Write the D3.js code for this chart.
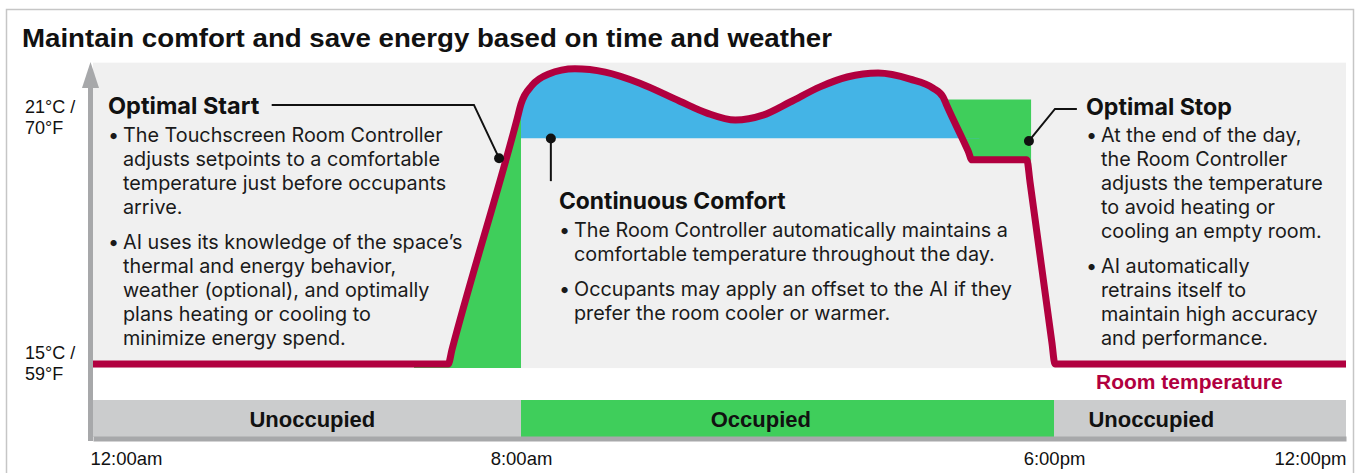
<!DOCTYPE html>
<html>
<head>
<meta charset="utf-8">
<script src="https://cdn.jsdelivr.net/npm/d3@7"></script>
<style>
  body { margin: 0; background: #fff; }
  svg { display: block; }
</style>
</head>
<body>
<div id="chart"></div>
<script>
// room temperature over the day: hour (0 = midnight) and °C
var tempHour  = [0, 6.64, 6.71, 7.93, 8.0, 8.21, 8.51, 9.01, 9.58, 10.23, 10.98, 11.49, 12.02, 12.54, 13.05, 13.61, 14.12, 14.7, 15.3, 15.73, 15.92, 15.99, 16.39, 16.46, 17.49, 17.55, 17.96, 18.02, 24];
var tempValue = [15, 15, 15.35, 20.99, 21.34, 21.8, 22.07, 22.2, 22.12, 21.85, 21.41, 21.12, 20.95, 21.07, 21.39, 21.76, 22.0, 22.1, 21.95, 21.73, 21.51, 21.3, 20.19, 19.98, 19.98, 19.44, 15.53, 15, 15];

var setpoint = 20.5;              // comfort setpoint (bottom of the blue band)
var comfortWindow = [8, 16.6];    // where the blue band is drawn
var startWindow = [6, 8];         // optimal start (green under the ramp)
var stopWindow = [16.0, 17.57];   // optimal stop (green above the line)
var stopTop = 21.45;

// occupancy schedule
var occLabels  = ["Unoccupied", "Occupied", "Unoccupied"];
var occStart   = [0, 8, 18];
var occEnd     = [8, 18, 24];
var occLabelAt = [4.1, 12.5, 20];

// axis ticks
var timeTicks  = [0, 8, 18, 24];
var timeLabels = ["12:00am", "8:00am", "6:00pm", "12:00pm"];
var tempTicks  = [21, 15];
var tempLabels = [["21°C /", "70°F"], ["15°C /", "59°F"]];

var data = tempHour.map(function (h, i) { return [h, tempValue[i]]; });

var width = 1357, height = 473;
var red = "#b1003f", blue = "#44b4e6", green = "#3fce5b";

var svg = d3.select("#chart").append("svg")
    .attr("width", width)
    .attr("height", height);

// scales (the day is drawn a bit unevenly, so the time scale is piecewise)
var x = d3.scaleLinear()
    .domain([0, 8, 18, 24])
    .range([93, 521, 1054, 1346]);
var y = d3.scaleLinear()
    .domain([15, 21])
    .range([364, 118]);

// outer frame
svg.append("rect")
    .attr("x", 6.5).attr("y", 9.5)
    .attr("width", 1347).attr("height", 480)
    .attr("fill", "#fff")
    .attr("stroke", "#c6c6c6")
    .attr("stroke-width", 1.5);

svg.append("text")
    .attr("x", 22).attr("y", 47)
    .attr("font-family", "Liberation Sans, Arial, sans-serif")
    .attr("font-weight", "bold")
    .attr("font-size", 25)
    .attr("textLength", 810)
    .attr("lengthAdjust", "spacingAndGlyphs")
    .attr("fill", "#111")
    .text("Maintain comfort and save energy based on time and weather");

// plot background
svg.append("rect")
    .attr("x", x(0)).attr("y", y(22.35))
    .attr("width", x(24) - x(0))
    .attr("height", y(14.9) - y(22.35))
    .attr("fill", "#f0f0f0");

// clips
var defs = svg.append("defs");
function clipRect(id, h0, h1, top, bottom) {
  defs.append("clipPath").attr("id", id)
    .append("rect")
      .attr("x", x(h0)).attr("y", top)
      .attr("width", x(h1) - x(h0))
      .attr("height", bottom - top);
}
clipRect("clip-start", startWindow[0], startWindow[1], 0, height);
clipRect("clip-comfort", comfortWindow[0], comfortWindow[1], 0, y(setpoint));
clipRect("clip-stop", stopWindow[0], stopWindow[1], 0, height);

var area = d3.area()
    .x(function (d) { return x(d[0]); })
    .y1(function (d) { return y(d[1]); })
    .curve(d3.curveMonotoneX);

// optimal stop fill (between the box top and the line)
svg.append("path")
    .datum(data)
    .attr("clip-path", "url(#clip-stop)")
    .attr("fill", green)
    .attr("d", area.y0(y(stopTop)));

// optimal start fill under the ramp
svg.append("path")
    .datum(data)
    .attr("clip-path", "url(#clip-start)")
    .attr("fill", green)
    .attr("d", area.y0(y(14.9)));

// comfort band above the setpoint
svg.append("path")
    .datum(data)
    .attr("clip-path", "url(#clip-comfort)")
    .attr("fill", blue)
    .attr("d", area.y0(y(setpoint)));

// room temperature line
svg.append("path")
    .datum(data)
    .attr("fill", "none")
    .attr("stroke", red)
    .attr("stroke-width", 7)
    .attr("stroke-linejoin", "round")
    .attr("d", d3.line()
      .x(function (d) { return x(d[0]); })
      .y(function (d) { return y(d[1]); })
      .curve(d3.curveMonotoneX));

svg.append("text")
    .attr("x", 1096).attr("y", 389)
    .attr("font-family", "Liberation Sans, Arial, sans-serif")
    .attr("font-weight", "bold")
    .attr("font-size", 21)
    .attr("fill", red)
    .text("Room temperature");

// occupancy band
var occ = svg.append("g").selectAll("g")
    .data(occLabels)
    .enter().append("g");
occ.append("rect")
    .attr("x", function (d, i) { return x(occStart[i]); })
    .attr("y", 400)
    .attr("width", function (d, i) { return x(occEnd[i]) - x(occStart[i]); })
    .attr("height", 37)
    .attr("fill", function (d) { return d == "Occupied" ? green : "#cbcccd"; });
occ.append("text")
    .attr("x", function (d, i) { return x(occLabelAt[i]); })
    .attr("y", 426.5)
    .attr("text-anchor", "middle")
    .attr("font-family", "Liberation Sans, Arial, sans-serif")
    .attr("font-weight", "bold")
    .attr("font-size", 22)
    .attr("fill", "#111")
    .text(function (d) { return d; });

// x axis
var xAxis = svg.append("g")
    .attr("transform", "translate(0,438.5)")
    .call(d3.axisBottom(x)
      .tickValues(timeTicks)
      .tickFormat(function (d, i) { return timeLabels[i]; })
      .tickSize(0)
      .tickSizeOuter(0));
xAxis.select(".domain")
    .attr("stroke", "#a7a8aa")
    .attr("stroke-width", 5);
xAxis.selectAll("text")
    .attr("y", 26.5)
    .attr("dy", 0)
    .attr("font-family", "Liberation Sans, Arial, sans-serif")
    .attr("font-size", 18.5)
    .attr("fill", "#111")
    .attr("text-anchor", function (d, i) {
      return i == 0 ? "start" : (i == timeTicks.length - 1 ? "end" : "middle");
    })
    .attr("dx", function (d, i) { return i == 0 ? -3 : 0; });

// y axis with arrow
svg.append("line")
    .attr("x1", 90.5).attr("x2", 90.5)
    .attr("y1", 85).attr("y2", 441)
    .attr("stroke", "#a7a8aa")
    .attr("stroke-width", 5);
svg.append("path")
    .attr("d", "M82,88 L90.5,62 L99,88 Z")
    .attr("fill", "#a7a8aa");

var yLab = svg.append("g").selectAll("text")
    .data(tempTicks)
    .enter().append("text")
    .attr("font-family", "Liberation Sans, Arial, sans-serif")
    .attr("font-size", 18)
    .attr("fill", "#111");
yLab.append("tspan")
    .attr("x", 25)
    .attr("y", function (d) { return y(d) - 5.5; })
    .text(function (d, i) { return tempLabels[i][0]; });
yLab.append("tspan")
    .attr("x", 25)
    .attr("y", function (d) { return y(d) + 16; })
    .text(function (d, i) { return tempLabels[i][1]; });

// callout leaders (hour, °C)
var startLeader   = [[3.34, 21.32], [7.12, 21.32], [7.59, 20.02]];
var comfortLeader = [[8.56, setpoint], [8.56, 19.46]];
var stopLeader    = [[17.53, 20.44], [18.02, 21.22], [18.47, 21.22]];

var leaderLine = d3.line()
    .x(function (d) { return x(d[0]); })
    .y(function (d) { return y(d[1]); });

[[startLeader, 2], [comfortLeader, 0], [stopLeader, 0]].forEach(function (c) {
  svg.append("path")
      .attr("d", leaderLine(c[0]))
      .attr("fill", "none")
      .attr("stroke", "#111")
      .attr("stroke-width", 2);
  svg.append("circle")
      .attr("cx", x(c[0][c[1]][0]))
      .attr("cy", y(c[0][c[1]][1]))
      .attr("r", 5)
      .attr("fill", "#111");
});

// callout texts
var startText = [
  ["The Touchscreen Room Controller", "adjusts setpoints to a comfortable", "temperature just before occupants", "arrive."],
  ["AI uses its knowledge of the space\u2019s", "thermal and energy behavior,", "weather (optional), and optimally", "plans heating or cooling to", "minimize energy spend."]
];
var comfortText = [
  ["The Room Controller automatically maintains a", "comfortable temperature throughout the day."],
  ["Occupants may apply an offset to the AI if they", "prefer the room cooler or warmer."]
];
var stopText = [
  ["At the end of the day,", "the Room Controller", "adjusts the temperature", "to avoid heating or", "cooling an empty room."],
  ["AI automatically", "retrains itself to", "maintain high accuracy", "and performance."]
];

function callout(left, headY, heading, headSize, paras, bodyY) {
  var g = svg.append("g")
      .attr("font-family", "Inter, Roboto, sans-serif")
      .attr("fill", "#1a1a1a");
  g.append("text")
      .attr("x", left).attr("y", headY)
      .attr("font-size", headSize)
      .attr("font-weight", 700)
      .attr("fill", "#111")
      .text(heading);
  var yy = bodyY;
  paras.forEach(function (lines) {
    g.append("text")
        .attr("x", left).attr("y", yy)
        .attr("font-size", 19.8)
        .text("\u2022");
    lines.forEach(function (l) {
      g.append("text")
          .attr("x", left + 15).attr("y", yy)
          .attr("font-size", 19.8)
          .text(l);
      yy += 24;
    });
    yy += 11;
  });
}

callout(108, 113.5, "Optimal Start", 23.5, startText, 142);
callout(559, 208.5, "Continuous Comfort", 22.8, comfortText, 236.5);
callout(1086, 114.5, "Optimal Stop", 23.2, stopText, 142);
</script>
</body>
</html>
